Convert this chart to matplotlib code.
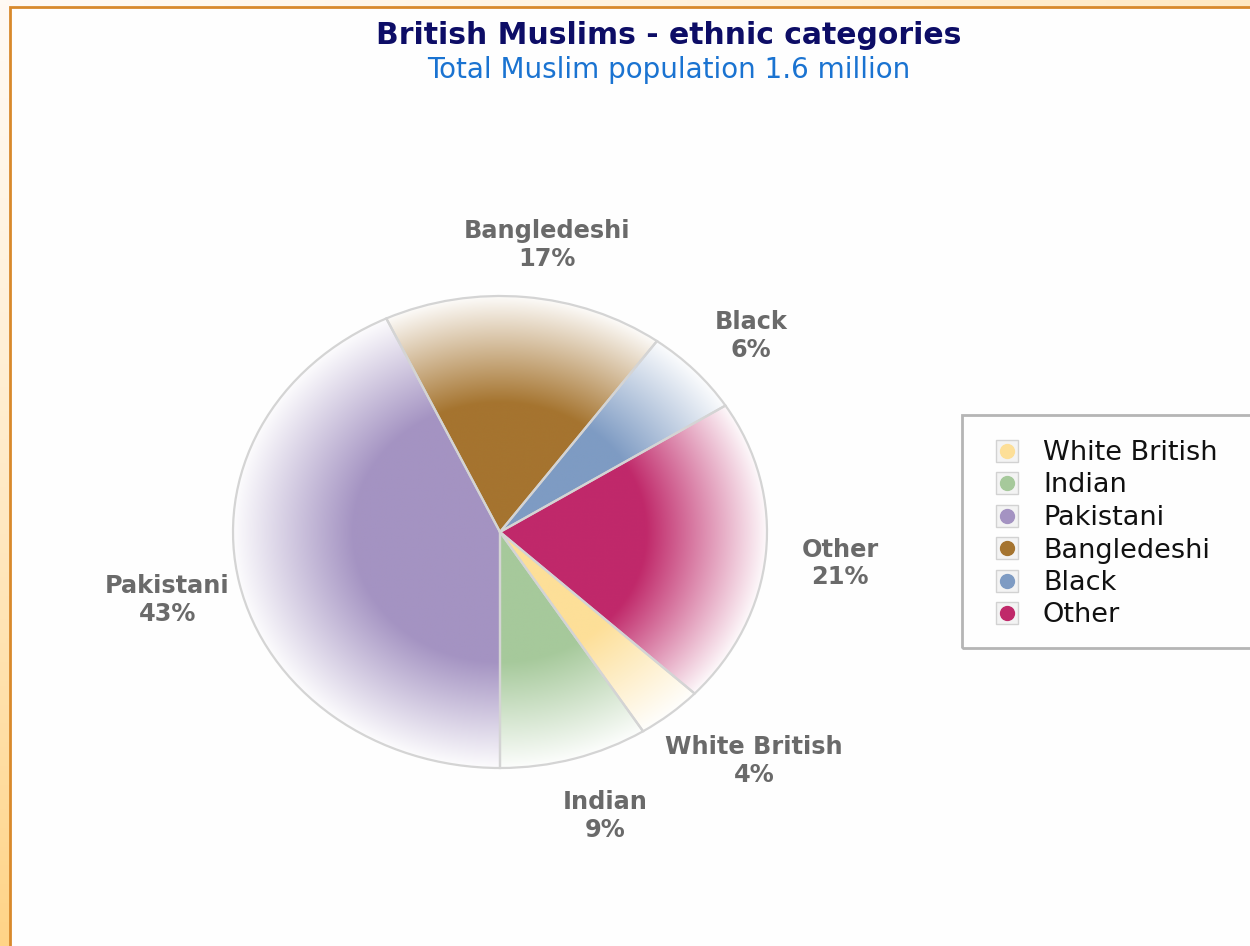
import numpy as np
import matplotlib.pyplot as plt
from matplotlib.patches import Rectangle
from matplotlib.lines import Line2D
from matplotlib.legend_handler import HandlerTuple
from matplotlib.colors import to_rgb

# data
categories = ['White British', 'Indian', 'Pakistani', 'Bangledeshi', 'Black', 'Other']
shares = [4, 9, 43, 17, 6, 21]
colours = ['#fddf98', '#a6c99b', '#a493c2', '#a5742f', '#7e9bc3', '#c0296a']

title = 'British Muslims - ethnic categories'
subtitle = 'Total Muslim population 1.6 million'

W, H = 1250, 946
fig = plt.figure(figsize=(W / 100, H / 100), dpi=100)
fig.patch.set_facecolor('white')

# page background: light orange gradient strip with an orange border line
bg = fig.add_axes([0, 0, 1, 1], zorder=-10)
yy, xx = np.mgrid[0:1:200j, 0:1:200j]
t = np.clip(0.55 * xx + yy, 0, 1) ** 1.3
light = np.array([255, 250, 244]) / 255
dark = np.array([255, 212, 135]) / 255
bg.imshow(light + (dark - light) * t[..., None], extent=[0, 1, 0, 1],
          origin='upper', aspect='auto')
bg.add_patch(Rectangle((10 / W, -0.01), 1.1, (H - 7) / H + 0.01, facecolor='#fefefe',
                       edgecolor='#d8892c', linewidth=2, transform=bg.transAxes))
bg.set_xlim(0, 1)
bg.set_ylim(0, 1)
bg.axis('off')

# pie axes - the chart is stretched horizontally, so the pie is an ellipse
rx, ry, cx, cy = 267, 236, 500, 532
lim = 1.05
ax = fig.add_axes([(cx - lim * rx) / W, (H - cy - lim * ry) / H,
                   2 * lim * rx / W, 2 * lim * ry / H])
# Pakistani slice starts at six o'clock, slices run clockwise
start = -90 + 3.6 * sum(shares[:categories.index('Pakistani')])
wedges, _ = ax.pie(shares, colors=colours, startangle=start, counterclock=False,
                   wedgeprops=dict(edgecolor='#d4d4d4', linewidth=1.6))
ax.set_aspect('auto')

# radial gradient: solid colour in the middle, fading to white at the rim
gy, gx = np.mgrid[1:-1:600j, -1:1:600j]
r = np.hypot(gx, gy)
fade = np.clip((1.0 - r) / 0.45, 0, 1) * 0.97 + 0.03
for w, c in zip(wedges, colours):
    rgb = 1 - (1 - np.array(to_rgb(c))) * fade[..., None]
    im = ax.imshow(rgb, extent=[-1, 1, -1, 1], aspect='auto', zorder=1,
                   interpolation='bilinear')
    im.set_clip_path(w)
    w.set_facecolor('none')
    w.set_zorder(2)
ax.set_xlim(-lim, lim)
ax.set_ylim(-lim, lim)
ax.axis('off')

# slice labels
labels = []
for w, name, s in zip(wedges, categories, shares):
    txt = ax.text(0, 0, f'{name}\n{s}%', ha='center', va='center', fontsize=17.3,
                  fontweight='bold', color='#6a6a6a', linespacing=1.2)
    labels.append((txt, np.deg2rad((w.theta1 + w.theta2) / 2)))

# put each label just outside the rim along the middle of its slice
fig.canvas.draw()
renderer = fig.canvas.get_renderer()
px, py, xshift, yshift = 24, 30, 12, -4
for txt, a in labels:
    bb = txt.get_window_extent(renderer)
    edge = ax.transData.transform((np.cos(a), np.sin(a)))
    pos = edge + np.array([np.cos(a) * (bb.width / 2 + px) + xshift,
                           np.sin(a) * (bb.height / 2 + py) + yshift])
    txt.set_position(ax.transData.inverted().transform(pos))

# titles
fig.text(669 / W, 1 - 35 / H, title, ha='center', va='center', fontsize=21.5,
         fontweight='bold', color='#0d0d66')
fig.text(669 / W, 1 - 70 / H, subtitle, ha='center', va='center', fontsize=20,
         color='#1a73d1')

# legend
handles = [(Line2D([], [], marker='s', ms=16, mfc='#f3f3f3', mec='#d2d2d2', ls=''),
            Line2D([], [], marker='o', ms=10, mfc=c, mec=c, ls='')) for c in colours]
fig.legend(handles, categories, handler_map={tuple: HandlerTuple(ndivide=1)},
           loc='upper left', bbox_to_anchor=(991 / W, 1 - 440 / H), frameon=False,
           prop=dict(size=19.5), labelspacing=0.24, handlelength=1.2,
           handletextpad=0.72, borderaxespad=0, borderpad=0, labelcolor='#111111')
fig.add_artist(Rectangle((962 / W, 1 - 648 / H), 0.3, (648 - 415) / H,
                         transform=fig.transFigure, fill=False,
                         edgecolor='#b5b5b5', linewidth=2))

fig.savefig('out.png', dpi=100)
